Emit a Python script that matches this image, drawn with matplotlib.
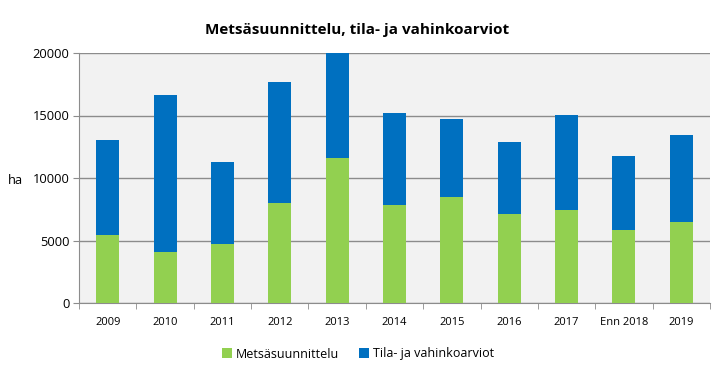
import matplotlib
matplotlib.use("Agg")
import matplotlib.pyplot as plt
import numpy as np

categories = ["2009", "2010", "2011", "2012", "2013", "2014", "2015", "2016", "2017", "Enn 2018", "2019"]
metsasuunnittelu = [5470, 4110, 4750, 8030, 11630, 7870, 8510, 7090, 7470, 5810, 6510]
totals = [13070, 16670, 11310, 17710, 20000, 15230, 14750, 12910, 15070, 11790, 13470]
tila_vahinko = [t - m for t, m in zip(totals, metsasuunnittelu)]
yticks = [0, 5000, 10000, 15000, 20000]

plt.rcParams['font.family'] = ['Open Sans', 'DejaVu Sans']

fig = plt.figure(figsize=(7.21, 3.73), dpi=100)
ax = fig.add_axes([79/721, 1-303/373, (710-79)/721, (303-53)/373])
ax.set_facecolor("#f2f2f2")

x = np.arange(len(categories))
green = "#92d050"
blue = "#0070c0"
ax.bar(x, metsasuunnittelu, width=0.4, color=green, label="Metsäsuunnittelu", zorder=3)
ax.bar(x, tila_vahinko, width=0.4, bottom=metsasuunnittelu, color=blue, label="Tila- ja vahinkoarviot", zorder=3)

ax.set_xlim(-0.5, len(categories)-0.5)
ax.set_ylim(0, 20000)
ax.set_yticks(yticks)
ax.set_yticklabels([str(v) for v in yticks], fontsize=9.3)
ax.yaxis.grid(True, color="#8c8c8c", linewidth=1, zorder=0)
ax.tick_params(axis='y', length=4, color="#8c8c8c", pad=3)

ax.set_xticks(x)
ax.set_xticklabels(categories, fontsize=8)
ax.tick_params(axis='x', which='major', length=0, pad=10)
ax.set_xticks(np.arange(-0.5, len(categories)), minor=True)
ax.tick_params(axis='x', which='minor', length=4, color="#8c8c8c")

for s in ["top", "right"]:
    ax.spines[s].set_visible(False)
for s in ["left", "bottom"]:
    ax.spines[s].set_color("#8c8c8c")

fig.text(15/721, 1-180/373, "ha", fontsize=9.3, ha="center", va="center")
fig.text(0.495, 1-30/373, "Metsäsuunnittelu, tila- ja vahinkoarviot", fontsize=11,
         fontweight="bold", ha="center", va="center")

fig.legend(loc="center", bbox_to_anchor=(0.497, 1-354/373), ncol=2, frameon=False,
           fontsize=9, handlelength=0.8, handleheight=0.8, handletextpad=0.3, columnspacing=1.6)

fig.savefig("out.png", dpi=100)
